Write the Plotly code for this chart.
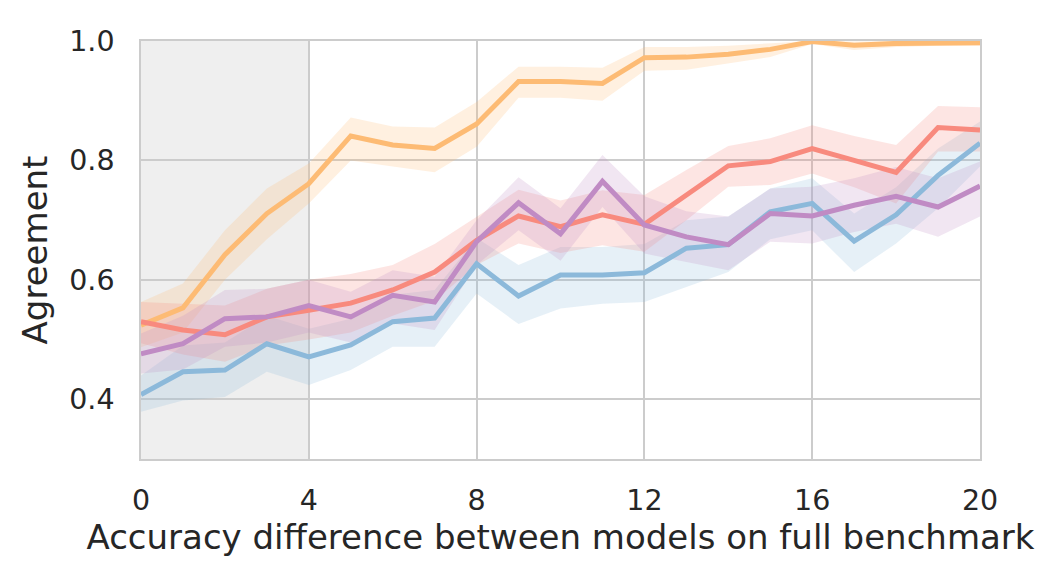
import plotly.graph_objects as go

# Accuracy difference (percentage points) between the two compared models
acc_diff = list(range(21))

# Mean agreement per series, with lower/upper bounds of the confidence band
orange_mean = [0.524, 0.553, 0.642, 0.711, 0.761, 0.841, 0.826, 0.820, 0.861, 0.932, 0.932,
               0.929, 0.972, 0.973, 0.978, 0.986, 0.999, 0.993, 0.996, 0.997, 0.997]
orange_hi = [0.563, 0.594, 0.683, 0.753, 0.795, 0.872, 0.857, 0.855, 0.898, 0.957, 0.957,
             0.955, 0.990, 0.990, 0.992, 0.996, 1.000, 0.999, 1.000, 1.000, 1.000]
orange_lo = [0.487, 0.512, 0.600, 0.668, 0.728, 0.800, 0.790, 0.780, 0.823, 0.905, 0.905,
             0.900, 0.950, 0.952, 0.962, 0.973, 0.995, 0.985, 0.990, 0.992, 0.992]

red_mean = [0.530, 0.516, 0.508, 0.538, 0.549, 0.561, 0.583, 0.613, 0.666, 0.707, 0.689,
            0.709, 0.693, 0.741, 0.791, 0.798, 0.820, 0.800, 0.780, 0.855, 0.851]
red_hi = [0.563, 0.560, 0.557, 0.585, 0.600, 0.610, 0.625, 0.660, 0.705, 0.751, 0.733,
          0.750, 0.742, 0.784, 0.824, 0.837, 0.859, 0.841, 0.826, 0.891, 0.889]
red_lo = [0.494, 0.475, 0.463, 0.490, 0.500, 0.512, 0.540, 0.565, 0.625, 0.661, 0.645,
          0.658, 0.647, 0.700, 0.756, 0.759, 0.778, 0.755, 0.728, 0.815, 0.815]

purple_mean = [0.476, 0.493, 0.535, 0.538, 0.557, 0.538, 0.574, 0.563, 0.664, 0.729, 0.677,
               0.765, 0.692, 0.672, 0.659, 0.711, 0.707, 0.725, 0.740, 0.722, 0.757]
purple_hi = [0.510, 0.540, 0.583, 0.585, 0.600, 0.580, 0.616, 0.605, 0.700, 0.772, 0.720,
             0.809, 0.740, 0.715, 0.706, 0.753, 0.756, 0.770, 0.789, 0.770, 0.798]
purple_lo = [0.443, 0.450, 0.488, 0.495, 0.512, 0.495, 0.527, 0.516, 0.625, 0.683, 0.632,
             0.722, 0.644, 0.630, 0.616, 0.664, 0.661, 0.680, 0.694, 0.672, 0.706]

blue_mean = [0.408, 0.446, 0.449, 0.493, 0.471, 0.491, 0.530, 0.536, 0.627, 0.573, 0.608,
             0.608, 0.612, 0.653, 0.659, 0.714, 0.728, 0.665, 0.709, 0.775, 0.829]
blue_hi = [0.440, 0.490, 0.495, 0.540, 0.518, 0.535, 0.575, 0.583, 0.670, 0.625, 0.655,
           0.655, 0.660, 0.700, 0.706, 0.753, 0.770, 0.711, 0.755, 0.820, 0.865]
blue_lo = [0.379, 0.398, 0.404, 0.446, 0.424, 0.449, 0.488, 0.488, 0.577, 0.526, 0.552,
           0.560, 0.563, 0.588, 0.613, 0.668, 0.683, 0.613, 0.661, 0.720, 0.790]

x_ticks = [0, 4, 8, 12, 16, 20]
y_ticks = [0.4, 0.6, 0.8, 1.0]
shaded_until = 4

series = [
    (orange_mean, orange_lo, orange_hi, (253, 187, 116)),
    (blue_mean, blue_lo, blue_hi, (140, 185, 218)),
    (red_mean, red_lo, red_hi, (248, 138, 126)),
    (purple_mean, purple_lo, purple_hi, (192, 139, 196)),
]

fig = go.Figure()

for mean, lo, hi, (r, g, b) in series:
    fig.add_trace(go.Scatter(
        x=acc_diff + acc_diff[::-1], y=hi + lo[::-1],
        fill="toself", fillcolor=f"rgba({r},{g},{b},0.22)",
        line=dict(width=0), mode="lines", hoverinfo="skip", showlegend=False,
    ))

for mean, lo, hi, (r, g, b) in series:
    fig.add_trace(go.Scatter(
        x=acc_diff, y=mean, mode="lines",
        line=dict(color=f"rgb({r},{g},{b})", width=5),
        showlegend=False,
    ))

# Grey region marking small accuracy differences
fig.add_shape(type="rect", xref="x", yref="paper", x0=0, x1=shaded_until, y0=0, y1=1,
              fillcolor="#efefef", line=dict(width=0), layer="below")

font = dict(family="DejaVu Sans", size=28.5, color="#262626")

fig.update_layout(
    width=1043, height=561,
    margin=dict(l=141, r=63, t=41, b=102),
    plot_bgcolor="rgba(0,0,0,0)", paper_bgcolor="white",
    font=font,
)
fig.update_xaxes(
    range=[0, 20], tickvals=x_ticks, ticktext=[str(v) for v in x_ticks],
    showgrid=True, gridcolor="#cccccc", gridwidth=1.5,
    showline=True, linecolor="#cccccc", linewidth=1.5, mirror=True,
    ticks="outside", ticklen=15, tickcolor="rgba(0,0,0,0)",
    zeroline=False, layer="below traces",
    title=dict(text="Accuracy difference between models on full benchmark", standoff=7),
)
fig.update_yaxes(
    range=[0.3, 1.0], tickvals=y_ticks, ticktext=[f"{v:.1f}" for v in y_ticks],
    showgrid=True, gridcolor="#cccccc", gridwidth=1.5,
    showline=True, linecolor="#cccccc", linewidth=1.5, mirror=True,
    ticks="outside", ticklen=19, tickcolor="rgba(0,0,0,0)",
    zeroline=False, layer="below traces",
    title=dict(text="Agreement", standoff=11),
)

fig.write_html("out.html")
